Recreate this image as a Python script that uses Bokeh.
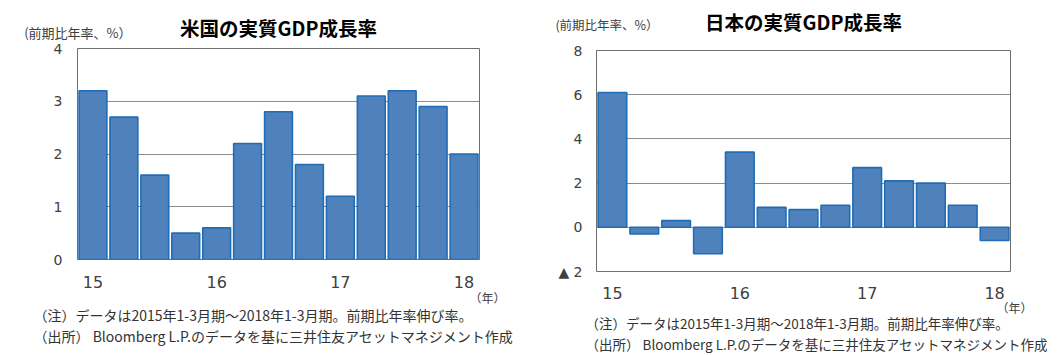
from bokeh.plotting import figure
from bokeh.models import Title, FixedTicker, Range1d, LinearAxis
from bokeh.layouts import row
from bokeh.embed import file_html
from bokeh.resources import INLINE

# ---- data ----
quarters = ["15Q1", "15Q2", "15Q3", "15Q4", "16Q1", "16Q2", "16Q3", "16Q4",
            "17Q1", "17Q2", "17Q3", "17Q4", "18Q1"]
us_growth = [3.2, 2.7, 1.6, 0.5, 0.6, 2.2, 2.8, 1.8, 1.2, 3.1, 3.2, 2.9, 2.0]
jp_growth = [6.1, -0.3, 0.3, -1.2, 3.4, 0.9, 0.8, 1.0, 2.7, 2.1, 2.0, 1.0, -0.6]
year_tick_pos = [0, 4, 8, 12]
year_tick_labels = ["15", "16", "17", "18"]
us_yticks = [0, 1, 2, 3, 4]
us_ytick_labels = ["0", "1", "2", "3", "4"]
jp_yticks = [-2, 0, 2, 4, 6, 8]
jp_ytick_labels = ["▲ 2", "0", "2", "4", "6", "8"]

us_title = "米国の実質GDP成長率"
jp_title = "日本の実質GDP成長率"
unit_label = "(前期比年率、%）"
year_label = "（年）"
note1 = "（注）データは2015年1-3月期～2018年1-3月期。前期比年率伸び率。"
note2 = "（出所） Bloomberg L.P.のデータを基に三井住友アセットマネジメント作成"

JP = "Noto Sans CJK JP"
NUM = "DejaVu Sans"
FILL = "#4f81bd"
EDGE = "#1f6db4"
GRID = "#8c8c8c"
TXT = "#404040"
H = 355


def title(p, text, where, size, align, offset, standoff, valign, color=TXT):
    t = Title(text=text, align=align, offset=offset, standoff=standoff,
              text_font=JP, text_font_size=size, vertical_align=valign,
              text_font_style="normal", text_color=color)
    p.add_layout(t, where)


def plain(ax):
    ax.axis_line_color = None
    ax.major_tick_line_color = None
    ax.minor_tick_line_color = None
    ax.major_tick_out = 0
    ax.major_tick_in = 0


def make_chart(vals, width, fl, fr, ft, fb, yr, yticks, ylabels, ttl, cfg):
    p = figure(width=width, height=H, output_backend="svg", toolbar_location=None,
               x_range=Range1d(-0.5, len(vals) - 0.5), y_range=Range1d(*yr),
               min_border_left=fl, min_border_right=width - fr,
               min_border_top=ft, min_border_bottom=H - fb)
    p.frame_align = False
    p.background_fill_color = "white"
    p.border_fill_color = "white"
    p.outline_line_color = "#6e6e6e"
    p.outline_line_width = 1
    p.xgrid.visible = False
    p.ygrid.grid_line_color = GRID
    p.ygrid.grid_line_width = 1
    p.ygrid.ticker = FixedTicker(ticks=yticks)

    x = list(range(len(vals)))
    p.vbar(x=x, top=vals, bottom=0, width=0.9, fill_color=FILL,
           line_color=EDGE, line_width=1.6)

    bottom_ax = p.xaxis[0]
    left_ax = p.yaxis[0]
    plain(bottom_ax)
    plain(left_ax)
    for ax in (bottom_ax, left_ax):
        ax.major_label_text_color = TXT
        ax.major_label_text_font = NUM
    bottom_ax.ticker = FixedTicker(ticks=year_tick_pos)
    bottom_ax.major_label_overrides = {t: l for t, l in zip(year_tick_pos, year_tick_labels)}
    bottom_ax.major_label_text_font_size = "16px"
    bottom_ax.major_label_standoff = cfg["xl_standoff"]
    left_ax.ticker = FixedTicker(ticks=yticks)
    left_ax.major_label_overrides = {t: l for t, l in zip(yticks, ylabels)}
    left_ax.major_label_text_font_size = "14px"
    left_ax.major_label_standoff = cfg["yl_standoff"]

    # top axis: carries the unit label (as its single tick label) and the title
    top_ax = LinearAxis(ticker=FixedTicker(ticks=[cfg["unit_x"]]),
                        major_label_overrides={cfg["unit_x"]: unit_label},
                        major_label_standoff=cfg["unit_so"],
                        major_label_text_font=JP,
                        major_label_text_font_size=cfg["unit_size"],
                        major_label_text_color=TXT,
                        axis_label=ttl, axis_label_standoff=cfg["title_so"],
                        axis_label_text_font=JP, axis_label_text_font_size="19.5px",
                        axis_label_text_font_style="bold",
                        axis_label_text_color="black")
    plain(top_ax)
    p.add_layout(top_ax, "above")

    # below
    title(p, year_label, "below", "12px", "right", cfg["year_off"], cfg["year_so"], "middle")
    title(p, note1, "below", cfg["note_size"], "left", cfg["note_off"], 0, "top",
          color="#333333")
    title(p, note2, "below", cfg["note_size"], "left", cfg["note_off"], -3, "middle",
          color="#333333")
    return p


cfg1 = dict(xl_standoff=16, yl_standoff=15, unit_size="13px", unit_x=-0.49, unit_so=7,
            title_so=-22, year_off=-26, year_so=-5.2, note_size="14px", note_off=-44)
cfg2 = dict(xl_standoff=15, yl_standoff=14, unit_size="12.5px", unit_x=-0.17, unit_so=17,
            title_so=-24, year_off=-22, year_so=-8.2, note_size="13.5px", note_off=-11)

p1 = make_chart(us_growth, 530, 77, 479, 48, 259, (0, 4), us_yticks, us_ytick_labels,
                us_title, cfg1)
p2 = make_chart(jp_growth, 529, 66, 480, 50, 271, (-2, 8), jp_yticks, jp_ytick_labels,
                jp_title, cfg2)

layout = row(p1, p2)
open("out.html", "w").write(file_html(layout, INLINE))
